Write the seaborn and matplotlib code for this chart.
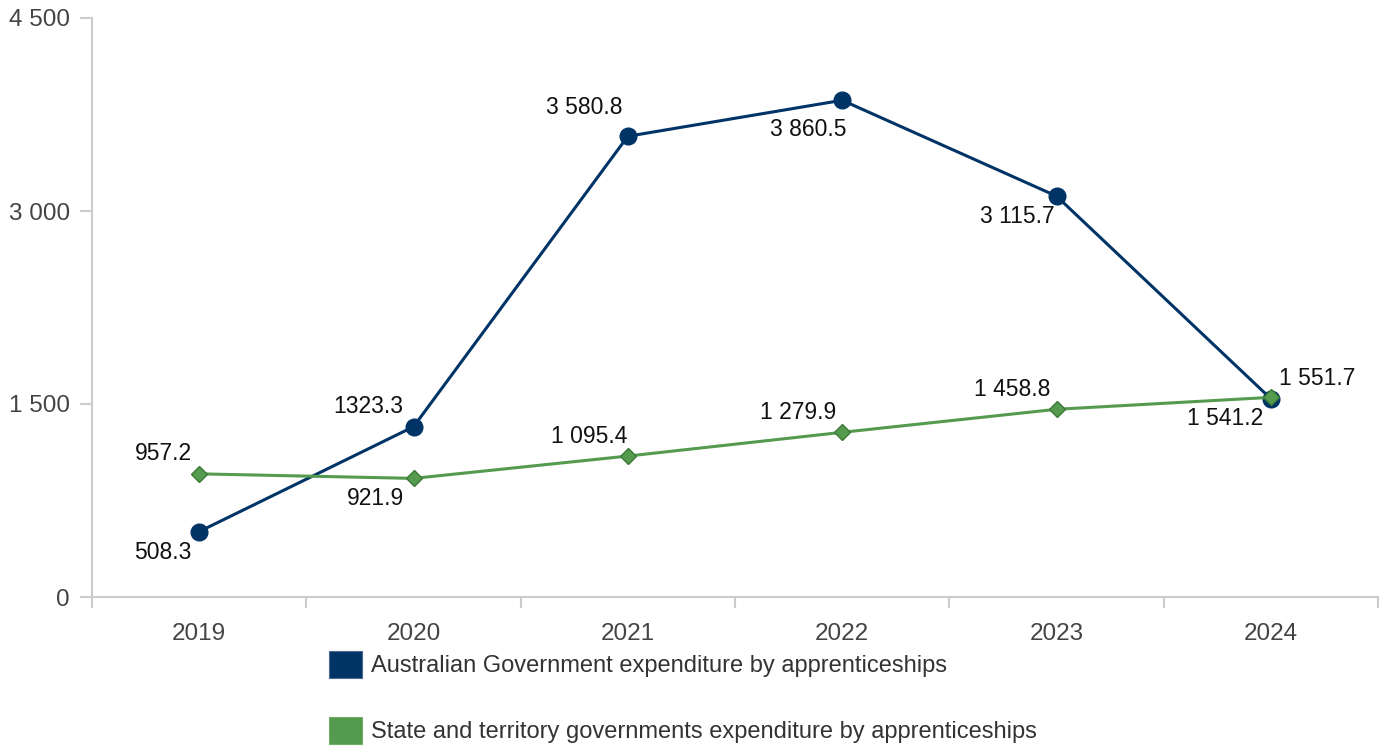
import matplotlib
matplotlib.use("Agg")
import matplotlib.pyplot as plt
from matplotlib.patches import Patch
from matplotlib.ticker import FuncFormatter, FixedLocator
import seaborn as sns
import pandas as pd

# Expenditure by apprenticeships ($m)
years = ["2019", "2020", "2021", "2022", "2023", "2024"]
australian_gov = [508.3, 1323.3, 3580.8, 3860.5, 3115.7, 1541.2]
state_territory = [957.2, 921.9, 1095.4, 1279.9, 1458.8, 1551.7]
series_names = [
    "Australian Government expenditure by apprenticeships",
    "State and territory governments expenditure by apprenticeships",
]
y_ticks = [0, 1500, 3000, 4500]

BLUE = "#003366"
GREEN = "#559b4f"
GREEN_EDGE = "#3d7a38"

sns.set_theme(style="white")
plt.rcParams["font.family"] = ["Liberation Sans", "DejaVu Sans"]

df = pd.DataFrame({
    "year": years * 2,
    "value": australian_gov + state_territory,
    "series": [series_names[0]] * len(years) + [series_names[1]] * len(years),
})

fig = plt.figure(figsize=(13.83, 7.49), dpi=100)
ax = fig.add_axes([92 / 1383, 1 - 597 / 749, (1378 - 92) / 1383, (597 - 18) / 749])

sns.lineplot(data=df[df["series"] == series_names[0]], x="year", y="value",
             color=BLUE, linewidth=2.2, marker="o", markersize=12,
             markeredgecolor=BLUE, markeredgewidth=1.0, ax=ax, zorder=3)
sns.lineplot(data=df[df["series"] == series_names[1]], x="year", y="value",
             color=GREEN, linewidth=2.2, marker="D", markersize=8.5,
             markeredgecolor=GREEN_EDGE, markeredgewidth=1.0, ax=ax, zorder=4)


def fmt_value(v, group=True):
    s = f"{v:,.1f}"
    return s.replace(",", " " if group else "")


# label placement per point: (dx, dy) in pixels relative to the marker
blue_offsets = [(-36, -21), (-45, 20), (-44, 29), (-34, -29), (-39, -20), (-46, -20)]
green_offsets = [(-36, 20), (-38, -20), (-39, 20), (-44, 20), (-44, 20), (46, 19)]
blue_grouping = [True, False, True, True, True, True]

for i, v in enumerate(australian_gov):
    dx, dy = blue_offsets[i]
    ax.annotate(fmt_value(v, blue_grouping[i]), (i, v), xytext=(dx * 0.72, dy * 0.72),
                textcoords="offset points", ha="center", va="center",
                fontsize=16.5, color="#111111", zorder=5)
for i, v in enumerate(state_territory):
    dx, dy = green_offsets[i]
    ax.annotate(fmt_value(v), (i, v), xytext=(dx * 0.72, dy * 0.72),
                textcoords="offset points", ha="center", va="center",
                fontsize=16.5, color="#111111", zorder=5)

ax.set_xlim(-0.5, len(years) - 0.5)
ax.set_ylim(0, 4500)
ax.set_yticks(y_ticks)
ax.yaxis.set_major_formatter(FuncFormatter(lambda v, p: f"{int(v):,}".replace(",", " ")))
ax.set_xticks(range(len(years)))
ax.set_xticklabels(years)
ax.xaxis.set_minor_locator(FixedLocator([i - 0.5 for i in range(len(years) + 1)]))

ax.set_xlabel("")
ax.set_ylabel("")
for side in ["top", "right"]:
    ax.spines[side].set_visible(False)
for side in ["left", "bottom"]:
    ax.spines[side].set_color("#cccccc")
    ax.spines[side].set_linewidth(1.5)

ax.tick_params(axis="y", which="major", length=9, width=1.5, color="#cccccc",
               labelsize=17.5, labelcolor="#444444", pad=7, left=True)
ax.tick_params(axis="x", which="major", length=0, labelsize=17.5,
               labelcolor="#444444", pad=19)
ax.tick_params(axis="x", which="minor", length=8, width=1.5, color="#cccccc", bottom=True)
ax.grid(False)

handles = [Patch(facecolor=BLUE, edgecolor="#4a6a8f", linewidth=0.8),
           Patch(facecolor=GREEN, edgecolor="#6fae69", linewidth=0.8)]
fig.legend(handles, series_names, loc="upper left",
           bbox_to_anchor=(329 / 1383, 1 - 651 / 749), frameon=False,
           fontsize=17, labelcolor="#333333", handlelength=1.38, handleheight=1.4,
           handletextpad=0.4, labelspacing=1.62, borderpad=0, borderaxespad=0)

fig.savefig("out.png", dpi=100)
